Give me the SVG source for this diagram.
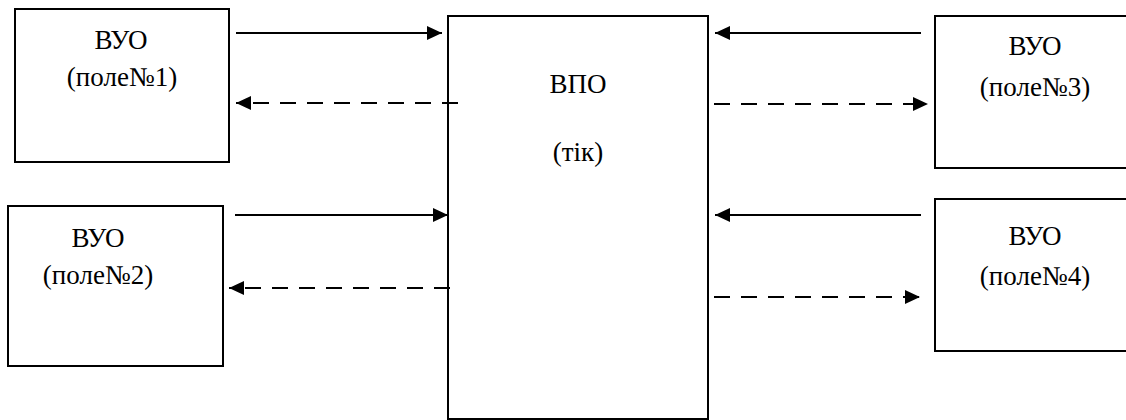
<svg xmlns="http://www.w3.org/2000/svg" width="1126" height="420" viewBox="0 0 1126 420">
<style>
.box{fill:#fff;stroke:#000;stroke-width:2}
.t{font-family:'Liberation Serif','Times New Roman',serif;font-size:27px;fill:#000;text-anchor:middle}
.c{stroke:#000;stroke-width:2;fill:none;marker-end:url(#ah)}
.d{stroke-dasharray:16 11}
</style>
<defs>
<marker id="ah" markerUnits="userSpaceOnUse" markerWidth="16" markerHeight="14" refX="15" refY="7" orient="auto">
<path d="M0,0 L15,7 L0,14 Z" fill="#000"/>
</marker>
</defs>
<g id="box1"><rect class="box" x="15" y="9" width="214" height="153"/><text class="t" x="121" y="49">ВУО</text><text class="t" x="122" y="86">(поле№1)</text></g>
<g id="box2"><rect class="box" x="8" y="206" width="215" height="160"/><text class="t" x="98" y="247">ВУО</text><text class="t" x="98" y="284">(поле№2)</text></g>
<g id="center"><rect class="box" x="448" y="16" width="260" height="403"/><text class="t" x="578" y="93">ВПО</text><text class="t" x="578" y="161">(тік)</text></g>
<g id="box3"><rect class="box" x="935" y="16" width="200" height="152"/><text class="t" x="1035" y="55">ВУО</text><text class="t" x="1035" y="96">(поле№3)</text></g>
<g id="box4"><rect class="box" x="935" y="199" width="200" height="152"/><text class="t" x="1035" y="245">ВУО</text><text class="t" x="1035" y="285">(поле№4)</text></g>
<g id="connectors">
<line class="c" x1="236" y1="33" x2="442" y2="33"/>
<line class="c d" x1="458" y1="103" x2="236" y2="103"/>
<line class="c" x1="235" y1="215" x2="448" y2="215"/>
<line class="c d" x1="450" y1="288" x2="229" y2="288"/>
<line class="c" x1="921" y1="33" x2="715" y2="33"/>
<line class="c d" x1="714" y1="104" x2="928" y2="104"/>
<line class="c" x1="921" y1="215" x2="715" y2="215"/>
<line class="c d" x1="714" y1="297" x2="920" y2="297"/>
</g>
</svg>
